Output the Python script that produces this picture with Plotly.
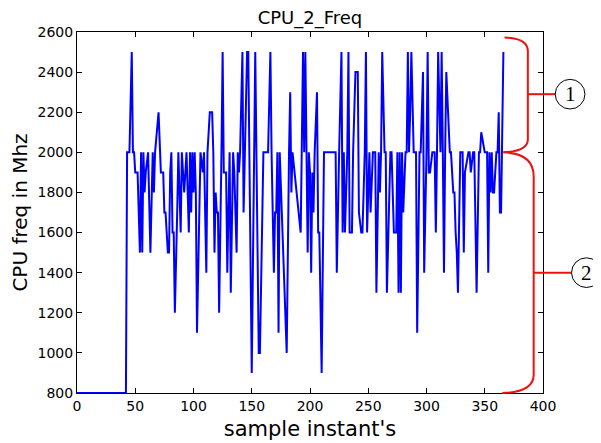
import plotly.graph_objects as go

# sample index and CPU frequency (MHz)
sample_x = [0, 42, 43, 45, 47, 48, 49, 50, 52, 54, 55, 56, 57, 58, 59, 61, 63, 65, 66, 67,
            70, 72, 74, 75, 76, 77, 78, 79, 80, 81, 82, 83, 84, 86, 87, 89, 90, 92, 94, 95,
            96, 97, 98, 99, 100, 101, 102, 103, 105, 106, 108, 109, 111, 112, 114, 116, 117, 118, 119, 120,
            121, 122, 124, 125, 126, 128, 129, 131, 132, 134, 135, 137, 138, 139, 140, 142, 143, 144, 146, 147,
            150, 153, 156, 157, 160, 164, 165, 166, 167, 169, 170, 171, 172, 173, 174, 180, 182, 183, 184, 185,
            192, 193, 194, 195, 196, 198, 199, 200, 201, 202, 203, 204, 206, 207, 208, 210, 212, 222, 223, 225,
            227, 228, 229, 230, 232, 233, 234, 236, 237, 239, 241, 242, 244, 245, 247, 248, 249, 251, 252, 254,
            256, 257, 259, 260, 261, 262, 264, 265, 266, 269, 270, 272, 274, 275, 276, 277, 278, 279, 280, 282,
            283, 284, 285, 286, 287, 289, 291, 292, 294, 295, 297, 298, 300, 301, 302, 303, 305, 307, 308, 309,
            310, 312, 313, 314, 315, 316, 317, 320, 321, 323, 324, 325, 326, 327, 329, 331, 332, 333, 336, 337,
            338, 340, 341, 343, 345, 346, 347, 350, 352, 353, 354, 355, 356, 357, 358, 360, 361, 362, 363, 364,
            366]
freq_mhz = [800, 800, 2000, 2000, 2500, 2000, 2000, 1900, 1900, 1500, 2000, 1500, 2000, 1800, 1900, 2000, 1500, 2000, 1800, 2000,
            2200, 1900, 1900, 1700, 1700, 1600, 1500, 1500, 1900, 2000, 1600, 1600, 1200, 1700, 2000, 1600, 2000, 1800, 2000, 1800,
            1600, 2000, 1700, 2000, 1800, 2000, 1800, 1100, 1800, 2000, 1900, 2000, 1400, 2000, 2200, 2200, 2000, 1500, 1800, 1700,
            1700, 1200, 2000, 2500, 1900, 1900, 1400, 2000, 1300, 2000, 1900, 1500, 2000, 1900, 2000, 2500, 1700, 2000, 2500, 2500,
            900, 2500, 1000, 1000, 2000, 2000, 2300, 2500, 2000, 1400, 1700, 1700, 2000, 1100, 2000, 1000, 2000, 2300, 1800, 2000,
            1600, 2000, 2500, 2000, 2500, 1500, 2000, 1900, 1400, 1900, 1700, 2000, 2300, 1600, 1600, 900, 2000, 2000, 1400, 2000,
            2500, 1600, 2000, 1600, 2000, 2500, 1600, 1600, 2000, 2400, 2400, 1700, 1600, 1600, 2000, 2500, 1600, 2000, 1700, 2000,
            2000, 1300, 2000, 1800, 2000, 2500, 2000, 2000, 1300, 2000, 2000, 1600, 1600, 2000, 1300, 2000, 1300, 2000, 1700, 2000,
            2000, 2500, 2000, 2200, 2500, 2000, 2000, 1100, 2000, 2000, 2400, 1400, 2000, 2500, 1900, 1900, 2000, 2000, 1600, 2000,
            2500, 2000, 2500, 2000, 1400, 2000, 2400, 2000, 2000, 1800, 1800, 1600, 1500, 1300, 2000, 2000, 1500, 1900, 2000, 2000,
            1900, 2000, 2000, 1300, 2000, 2000, 2100, 2000, 2000, 1400, 2000, 1800, 2000, 1800, 1800, 2000, 2000, 2200, 1700, 1700,
            2500]

x_ticks = [0, 50, 100, 150, 200, 250, 300, 350, 400]
y_ticks = [800, 1000, 1200, 1400, 1600, 1800, 2000, 2200, 2400, 2600]

X_RANGE = (0, 400)
Y_RANGE = (800, 2600)


def px(xd):
    return (xd - X_RANGE[0]) / (X_RANGE[1] - X_RANGE[0])


def py(yd):
    return (yd - Y_RANGE[0]) / (Y_RANGE[1] - Y_RANGE[0])


fig = go.Figure()
fig.add_trace(go.Scatter(x=sample_x, y=freq_mhz, mode="lines",
                         line=dict(color="#0000ff", width=2), showlegend=False))

red = "#ee1111"
# brace 1 (2600 -> 2000) and brace 2 (2000 -> 800), in data-like units
b1 = (f"M {px(367)} {py(2572)} Q {px(387)} {py(2570)} {px(387)} {py(2505)} "
      f"L {px(387)} {py(2065)} Q {px(387)} {py(2005)} {px(366)} {py(2000)}")
b2 = (f"M {px(366)} {py(2000)} Q {px(392)} {py(1995)} {px(392)} {py(1880)} "
      f"L {px(392)} {py(890)} Q {px(392)} {py(805)} {px(365)} {py(800)}")
shapes = [
    dict(type="path", path=b1, xref="paper", yref="paper", line=dict(color=red, width=2)),
    dict(type="path", path=b2, xref="paper", yref="paper", line=dict(color=red, width=2)),
    dict(type="line", xref="paper", yref="paper", x0=px(387), x1=px(410.5), y0=py(2290), y1=py(2290),
         line=dict(color=red, width=2)),
    dict(type="line", xref="paper", yref="paper", x0=px(392), x1=px(424.5), y0=py(1400), y1=py(1400),
         line=dict(color=red, width=2)),
    dict(type="circle", xref="paper", yref="paper", x0=px(410.5), x1=px(436), y0=py(2216), y1=py(2364),
         line=dict(color="black", width=1)),
    dict(type="circle", xref="paper", yref="paper", x0=px(424.5), x1=px(450), y0=py(1326), y1=py(1474),
         line=dict(color="black", width=1)),
]
annotations = [
    dict(text="1", xref="paper", yref="paper", x=px(423.2), y=py(2290), showarrow=False,
         xanchor="center", yanchor="middle",
         font=dict(family="Liberation Serif", size=21, color="black")),
    dict(text="2", xref="paper", yref="paper", x=px(437.2), y=py(1400), showarrow=False,
         xanchor="center", yanchor="middle",
         font=dict(family="Liberation Serif", size=21, color="black")),
]

axis_common = dict(showline=True, linecolor="black", linewidth=1, mirror="ticks",
                   ticks="inside", ticklen=5, tickcolor="black", showgrid=False,
                   zeroline=False, automargin=False,
                   tickfont=dict(family="DejaVu Sans", size=14, color="black"))

FIG_W, FIG_H = 593, 435   # page body has an 8px margin

fig.update_layout(
    width=FIG_W, height=FIG_H,
    margin=dict(l=69, r=58, t=24, b=50),
    paper_bgcolor="white", plot_bgcolor="white",
    title=dict(text="CPU_2_Freq", x=(69 + 535) / 2 / FIG_W, xanchor="center", y=1 - 10 / FIG_H,
               yanchor="middle", automargin=False,
               font=dict(family="DejaVu Sans", size=18, color="black")),
    xaxis=dict(range=list(X_RANGE), tickvals=x_ticks, ticktext=[str(v) for v in x_ticks],
               title=dict(text="sample instant's", standoff=8,
                          font=dict(family="DejaVu Sans", size=21, color="black")),
               **axis_common),
    yaxis=dict(range=list(Y_RANGE), tickvals=y_ticks, ticktext=[str(v) for v in y_ticks],
               title=dict(text="CPU freq in Mhz", standoff=9,
                          font=dict(family="DejaVu Sans", size=20, color="black")),
               **axis_common),
    shapes=shapes,
    annotations=annotations,
)

fig.write_html("out.html")
